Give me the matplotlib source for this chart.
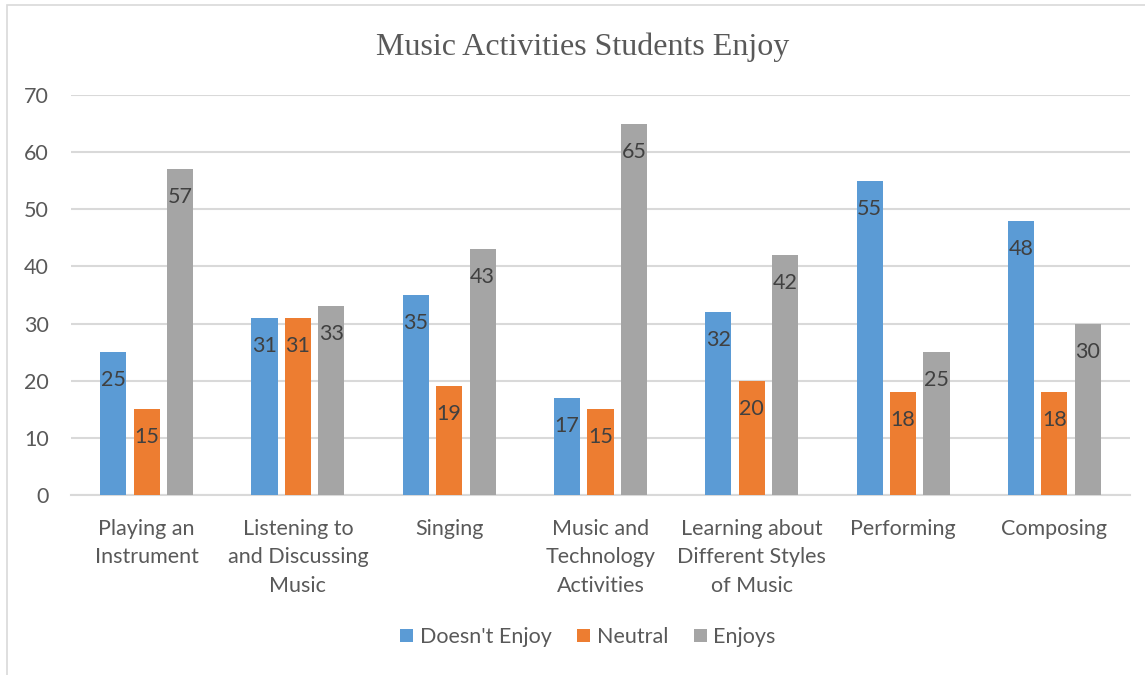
import matplotlib
matplotlib.use("Agg")
import matplotlib.pyplot as plt
import numpy as np
from matplotlib.patches import Rectangle

categories = ["Playing an\nInstrument", "Listening to\nand Discussing\nMusic", "Singing",
              "Music and\nTechnology\nActivities", "Learning about\nDifferent Styles\nof Music",
              "Performing", "Composing"]
series_names = ["Doesn't Enjoy", "Neutral", "Enjoys"]
doesnt_enjoy = [25, 31, 35, 17, 32, 55, 48]
neutral = [15, 31, 19, 15, 20, 18, 18]
enjoys = [57, 33, 43, 65, 42, 25, 30]
colors = ["#5B9BD5", "#ED7D31", "#A5A5A5"]
yticks = [0, 10, 20, 30, 40, 50, 60, 70]

TXT = "#595959"
FONT = ["Lato", "DejaVu Sans"]

fig = plt.figure(figsize=(11.45, 6.75), dpi=100)
W, H = 1145, 675
# outer chart border
fig.patches.append(Rectangle((7 / W, -0.01), 1.2, (675 - 5) / H + 0.01, transform=fig.transFigure,
                             fill=False, edgecolor="#D9D9D9", linewidth=1.2))

ax = fig.add_axes([71 / W, (H - 495) / H, (1130 - 71) / W, 400 / H])
x = np.arange(len(categories))
bw = 0.172
step = 0.221
for i, (vals, c, name) in enumerate(zip([doesnt_enjoy, neutral, enjoys], colors, series_names)):
    pos = x + (i - 1) * step
    ax.bar(pos, vals, width=bw, color=c, label=name, zorder=3)
    for p, v in zip(pos, vals):
        ax.annotate(str(v), (p, v), xytext=(0, -28 * 72 / 100), textcoords="offset points",
                    ha="center", va="center", fontsize=15.5, color="#404040", family=FONT, zorder=4)

ax.set_xlim(-0.5, len(categories) - 0.5)
ax.set_ylim(0, 70)
ax.set_yticks(yticks)
ax.set_yticklabels([str(t) for t in yticks], family=FONT, fontsize=15.5, color=TXT)
ax.set_xticks(x)
ax.set_xticklabels(categories, family=FONT, fontsize=15.5, color=TXT, linespacing=1.55, va="top")
ax.tick_params(axis="both", length=0)
ax.tick_params(axis="y", pad=16)
ax.tick_params(axis="x", pad=17)
ax.grid(axis="y", color="#D9D9D9", linewidth=1.5, zorder=0)
for s in ["top", "right", "left"]:
    ax.spines[s].set_visible(False)
ax.spines["bottom"].set_color("#D9D9D9")
ax.spines["bottom"].set_linewidth(1.5)

fig.text(583 / W, 1 - 47 / H, "Music Activities Students Enjoy", ha="center", va="center",
         family=["Liberation Serif", "DejaVu Serif"], fontsize=23, color=TXT)

leg = fig.legend(loc="center", bbox_to_anchor=(588 / W, 1 - 637 / H), ncol=3, frameon=False,
                 prop={"family": FONT, "size": 15.5}, handlelength=0.6, handleheight=0.6,
                 handletextpad=0.3, columnspacing=1.2)
for t in leg.get_texts():
    t.set_color(TXT)

fig.savefig("out.png", dpi=100, facecolor="white")
